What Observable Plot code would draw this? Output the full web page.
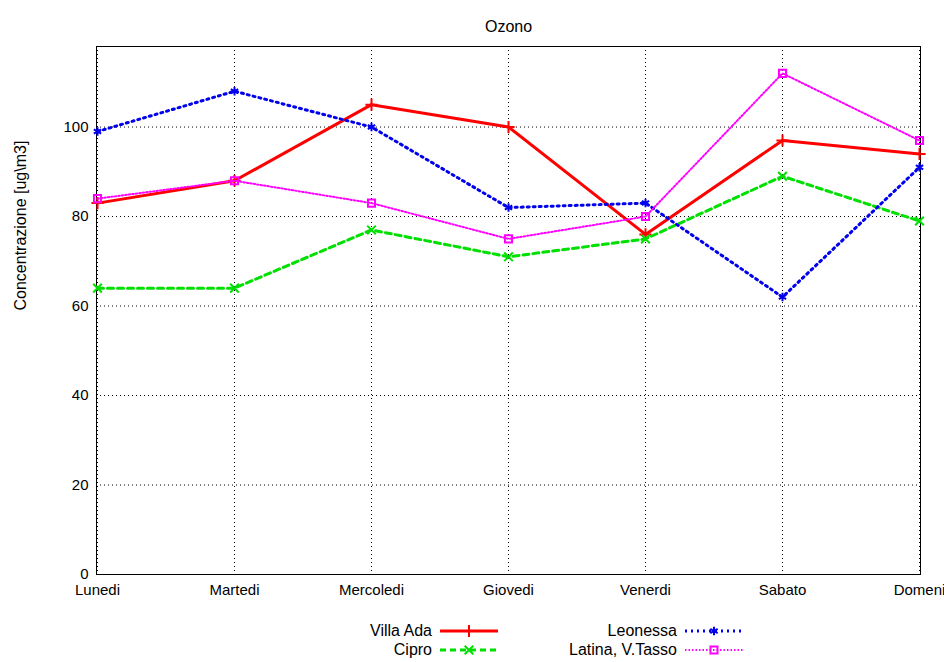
<!DOCTYPE html>
<html>
<head>
<meta charset="utf-8">
<script src="https://cdn.jsdelivr.net/npm/d3@7"></script>
<script src="https://cdn.jsdelivr.net/npm/@observablehq/plot@0.6"></script>
<style>
body { margin: 0; background: #fff; font-family: "Liberation Sans", Arial, sans-serif; }
#chart { position: relative; width: 944px; height: 662px; }
.leg { position: absolute; font-size: 16px; display: flex; align-items: center; }
.leg span { text-align: right; width: 200px; margin-right: 6px; }
</style>
</head>
<body>
<div id="chart"></div>
<script>
const days = ["Lunedi", "Martedi", "Mercoledi", "Giovedi", "Venerdi", "Sabato", "Domeni"]
const villaAda = [83, 88, 105, 100, 76, 97, 94]
const cipro = [64, 64, 77, 71, 75, 89, 79]
const leonessa = [99, 108, 100, 82, 83, 62, 91]
const latina = [84, 88, 83, 75, 80, 112, 97]

const series = [
  {name: "Villa Ada", values: villaAda, color: "#ff0000", symbol: "plus", dash: null, width: 3},
  {name: "Cipro", values: cipro, color: "#00e000", symbol: "times", dash: "6,4", width: 3},
  {name: "Leonessa", values: leonessa, color: "#0000ee", symbol: "asterisk", dash: "2,4", width: 3},
  {name: "Latina, V.Tasso", values: latina, color: "#ff00ff", symbol: "square", dash: "1.5,2", width: 2}
]

const marks = [
  Plot.gridX(days, {stroke: "#000", strokeOpacity: 1, strokeDasharray: "1,3"}),
  Plot.gridY(d3.range(20, 101, 20), {stroke: "#000", strokeOpacity: 1, strokeDasharray: "1,3"}),
  Plot.frame({stroke: "#000"})
]
for (const s of series) {
  const rows = days.map((d, i) => ({day: d, v: s.values[i]}))
  marks.push(Plot.line(rows, {x: "day", y: "v", stroke: s.color, strokeWidth: s.width, strokeDasharray: s.dash}))
  marks.push(Plot.dot(rows, {x: "day", y: "v", stroke: s.color, symbol: s.symbol, r: 4, strokeWidth: 2}))
}

const chart = Plot.plot({
  width: 944,
  height: 610,
  marginTop: 46,
  marginBottom: 36,
  marginLeft: 96,
  marginRight: 24,
  style: {fontSize: "15px", fontFamily: "Liberation Sans, Arial, sans-serif", color: "#000"},
  x: {type: "point", domain: days, padding: 0, label: null, tickSize: 0, tickPadding: 10},
  y: {domain: [0, 118], ticks: d3.range(0, 101, 20), label: null, tickSize: 0, tickPadding: 8},
  marks: [
    ...marks,
    Plot.text(["Ozono"], {frameAnchor: "top", dy: -26, fontSize: 16}),
    Plot.text(["Concentrazione [ug\\m3]"], {frameAnchor: "left", dx: -76, rotate: -90, fontSize: 16})
  ]
})
const root = document.querySelector("#chart")
root.append(chart)

const pos = [[232, 622], [232, 641], [477, 622], [477, 641]]
series.forEach((s, i) => {
  const div = document.createElement("div")
  div.className = "leg"
  div.style.left = pos[i][0] + "px"
  div.style.top = pos[i][1] + "px"
  div.innerHTML = `<span>${s.name}</span>`
  const svg = d3.create("svg").attr("width", 62).attr("height", 16)
  svg.append("line").attr("x1", 2).attr("x2", 60).attr("y1", 8).attr("y2", 8)
    .attr("stroke", s.color).attr("stroke-width", s.width).attr("stroke-dasharray", s.dash)
  svg.append("path").attr("transform", "translate(31,8)")
    .attr("d", d3.symbol(({plus: d3.symbolPlus, times: d3.symbolTimes, asterisk: d3.symbolAsterisk, square: d3.symbolSquare})[s.symbol], 50)())
    .attr("fill", "none").attr("stroke", s.color).attr("stroke-width", 2)
  div.append(svg.node())
  root.append(div)
})
</script>
</body>
</html>
